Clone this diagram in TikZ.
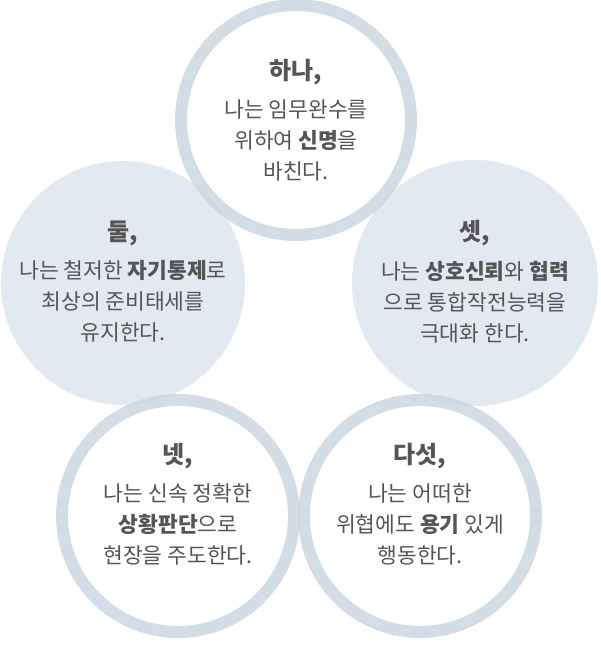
\documentclass[tikz,border=0pt]{standalone}
\usepackage{fontspec}
\setmainfont{Noto Sans CJK KR}
\usetikzlibrary{positioning}
\definecolor{ringc}{HTML}{C9D5E0}
\definecolor{discc}{HTML}{DCE4EC}
\definecolor{textc}{HTML}{555555}
\tikzset{
  ring/.style = {draw=ringc, line width=12pt, fill=white, fill opacity=0.3, draw opacity=0.8},
  disc/.style = {fill=discc, opacity=0.8},
  title/.style = {font=\fontsize{24}{26}\selectfont\bfseries, text=textc},
  body/.style = {align=center, font=\fontsize{21.5}{31}\selectfont, text=textc}
}
\begin{document}
\begin{tikzpicture}[x=1pt,y=-1pt]
        \useasboundingbox (0,0) rectangle (600,652);
        \fill[disc] (123,283) circle (122);
        \fill[disc] (475,283) circle (123);
        \draw[ring] (296,120) circle (115);
        \draw[ring] (178,516) circle (116);
        \draw[ring] (420,516) circle (116);
        % top
        \node [title](T1) at (296,72){하나,};
        \node [body, below= 8pt of T1](B1){나는 임무완수를\\위하여 \textbf{신명}을\\바친다.};
        % left
        \node [title](T2) at (123,233){둘,};
        \node [body, below= 8pt of T2](B2){나는 철저한 \textbf{자기통제}로\\최상의 준비태세를\\유지한다.};
        % right
        \node [title](T3) at (475,233){셋,};
        \node [body, below= 8pt of T3](B3){나는 \textbf{상호신뢰}와 \textbf{협력}\\으로 통합작전능력을\\극대화 한다.};
        % bottom left
        \node [title](T4) at (178,456){넷,};
        \node [body, below= 8pt of T4](B4){나는 신속 정확한\\\textbf{상황판단}으로\\현장을 주도한다.};
        % bottom right
        \node [title](T5) at (420,456){다섯,};
        \node [body, below= 8pt of T5](B5){나는 어떠한\\위협에도 \textbf{용기} 있게\\행동한다.};
\end{tikzpicture}
\end{document}
